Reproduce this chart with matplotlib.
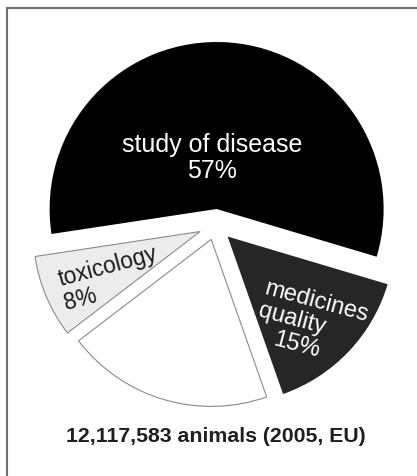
import matplotlib
matplotlib.use("Agg")
import matplotlib.pyplot as plt
from matplotlib.lines import Line2D

plt.rcParams['font.family'] = ['Liberation Sans', 'DejaVu Sans']

# slices, counter-clockwise from the right edge of "study of disease"
categories = ["study of disease", "toxicology", "other", "medicines\nquality"]
values = [57, 8, 20, 15]
colors = ["#000000", "#ececec", "#ffffff", "#262626"]
explode = [0.096, 0.1, 0.09, 0.1]
caption = "12,117,583 animals (2005, EU)"

W, H = 417, 477
fig = plt.figure(figsize=(W / 100, H / 100), dpi=100)
ax = fig.add_axes([0, 0, 1, 1])

wedges, _ = ax.pie(values, colors=colors, explode=explode, startangle=-16.6,
                   counterclock=True, radius=1)
for w, c in zip(wedges, colors):
    if c in ("#ffffff", "#ececec"):
        w.set_edgecolor("#8a8a8a")
        w.set_linewidth(0.8)
    else:
        w.set_edgecolor("none")

# pixel -> data helper (pie centre at 215.5,226 px, radius 167 px)
cx, cy, R = 215.5, 226, 167.0
ax.set_xlim(-cx / R, (W - cx) / R)
ax.set_ylim(-(H - cy) / R, cy / R)
ax.set_aspect("equal")
ax.axis("off")


def P(px, py):
    return (px - cx) / R, (cy - py) / R


ax.text(*P(212, 158), f"{categories[0]}\n{values[0]}%", color="white",
        fontsize=18, ha="center", va="center", multialignment="center",
        linespacing=1.15)
# multiline 'baseline' anchors on the last line
ax.text(*P(66, 308), f"{categories[1]}\n{values[1]}%", color="#1a1a1a",
        fontsize=16.5, ha="left", va="baseline", rotation=15,
        rotation_mode="anchor", linespacing=1.1)
ax.text(*P(258, 315), categories[3], color="white",
        fontsize=17, ha="left", va="baseline", rotation=-15,
        rotation_mode="anchor", linespacing=1.1)
ax.text(*P(272, 345), f"{values[3]}%", color="white",
        fontsize=17, ha="left", va="baseline", rotation=-15,
        rotation_mode="anchor")

fig.text(216 / W, 1 - 437 / H, caption, fontsize=15.3, fontweight="bold",
         color="#1e1e1e", ha="center", va="center")

# frame: left and top border only
fig.add_artist(Line2D([7 / W, 7 / W], [0, 1 - 9 / H], color="#6e6e6e", lw=1.5,
                      transform=fig.transFigure))
fig.add_artist(Line2D([7 / W, 1], [1 - 9 / H, 1 - 9 / H], color="#6e6e6e", lw=1.5,
                      transform=fig.transFigure))

fig.savefig("out.png", dpi=100)
